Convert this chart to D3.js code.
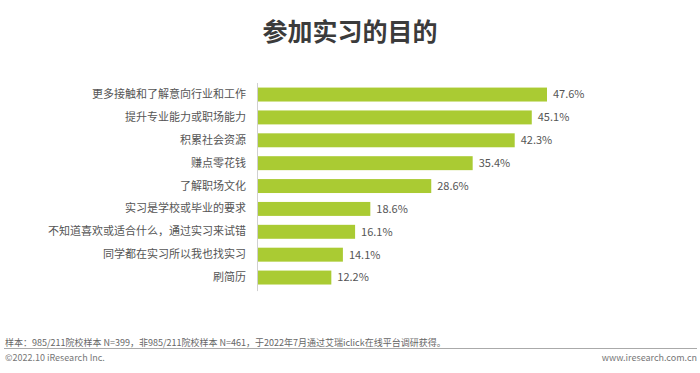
<!DOCTYPE html>
<html>
<head>
<meta charset="utf-8">
<script src="https://cdn.jsdelivr.net/npm/d3@7"></script>
<style>
  body { margin: 0; background: #fff; }
  svg text { font-family: "Noto Sans CJK SC", "Noto Sans", sans-serif; }
</style>
</head>
<body>
<svg id="chart" width="700" height="373"></svg>
<script>
const categories = [
  "更多接触和了解意向行业和工作",
  "提升专业能力或职场能力",
  "积累社会资源",
  "赚点零花钱",
  "了解职场文化",
  "实习是学校或毕业的要求",
  "不知道喜欢或适合什么，通过实习来试错",
  "同学都在实习所以我也找实习",
  "刷简历"
];
const values = [47.6, 45.1, 42.3, 35.4, 28.6, 18.6, 16.1, 14.1, 12.2];

const title = "参加实习的目的";
const note = "样本：985/211院校样本 N=399，非985/211院校样本 N=461，于2022年7月通过艾瑞iclick在线平台调研获得。";
const copyright = "©2022.10 iResearch Inc.";
const site = "www.iresearch.com.cn";

const svg = d3.select("#chart");
const left = 257;
const plotTop = 83;
const rowH = 22.9;
const barColor = "#aacb33";

const x = d3.scaleLinear().domain([0, 47.6]).range([left, 547]);
const y = d3.scaleBand()
  .domain(categories)
  .range([plotTop, plotTop + rowH * categories.length])
  .paddingInner(0.39)
  .paddingOuter(0.2);

svg.append("text")
  .attr("x", 350)
  .attr("y", 41)
  .attr("text-anchor", "middle")
  .attr("font-size", 25)
  .attr("font-weight", "bold")
  .attr("fill", "#3b3b3b")
  .text(title);

svg.append("g")
  .selectAll("rect")
  .data(values)
  .join("rect")
  .attr("x", x(0) + 1)
  .attr("y", (d, i) => y(categories[i]))
  .attr("width", (d) => x(d) - x(0) - 1)
  .attr("height", y.bandwidth())
  .attr("fill", barColor);

// left axis, labels only
const yAxis = d3.axisLeft(y).tickSize(0).tickPadding(11);
svg.append("g")
  .attr("transform", `translate(${left},0)`)
  .call(yAxis)
  .call((g) => g.select(".domain").remove())
  .call((g) => g.selectAll("text")
    .attr("font-size", 11)
    .attr("fill", "#555")
    .style("font-family", '"Noto Sans CJK SC", sans-serif'));

svg.append("line")
  .attr("x1", left + 0.5)
  .attr("x2", left + 0.5)
  .attr("y1", plotTop)
  .attr("y2", plotTop + rowH * categories.length + 2)
  .attr("stroke", "#d0d0d0");

svg.append("g")
  .selectAll("text")
  .data(values)
  .join("text")
  .attr("x", (d) => x(d) + 6)
  .attr("y", (d, i) => y(categories[i]) + y.bandwidth() / 2)
  .attr("dy", "0.35em")
  .attr("font-size", 11)
  .attr("fill", "#555")
  .text((d) => d.toFixed(1) + "%");

// footer
svg.append("text")
  .attr("x", 5)
  .attr("y", 346)
  .attr("font-size", 9)
  .attr("fill", "#666")
  .text(note);

svg.append("line")
  .attr("x1", 4)
  .attr("x2", 697)
  .attr("y1", 348.5)
  .attr("y2", 348.5)
  .attr("stroke", "#aaa");

svg.append("text")
  .attr("x", 5)
  .attr("y", 361)
  .attr("font-size", 9)
  .attr("fill", "#777")
  .text(copyright);

svg.append("text")
  .attr("x", 697)
  .attr("y", 361)
  .attr("text-anchor", "end")
  .attr("font-size", 9)
  .attr("fill", "#777")
  .text(site);
</script>
</body>
</html>
